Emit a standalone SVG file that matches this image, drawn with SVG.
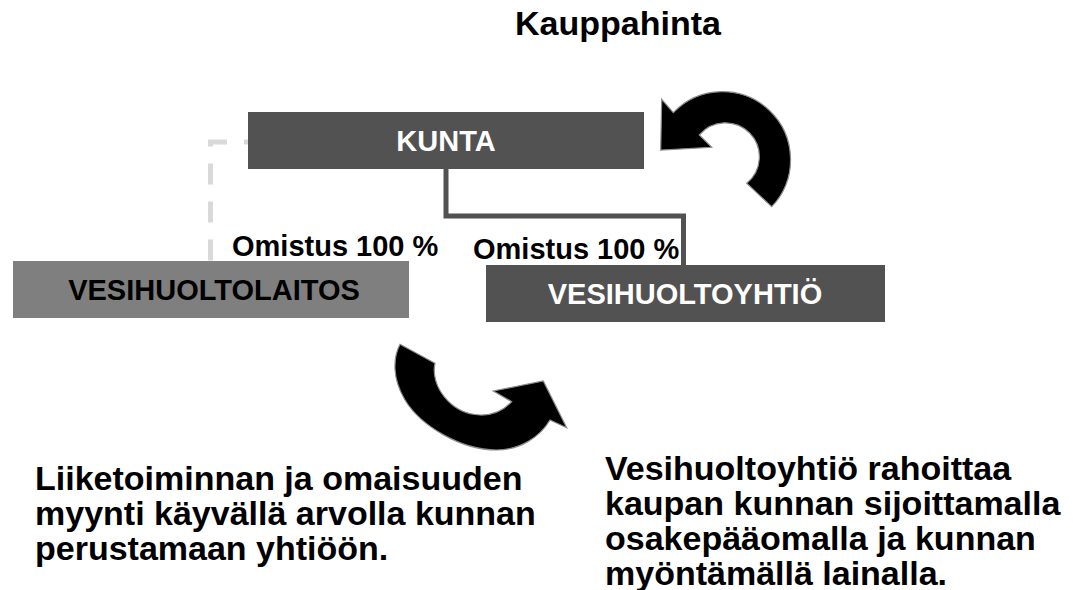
<svg xmlns="http://www.w3.org/2000/svg" width="1073" height="590" viewBox="0 0 1073 590">
  <style>
    text { font-family: "Liberation Sans", Arial, sans-serif; font-weight: bold; }
    .box-dark { fill: #525252; }
    .box-gray { fill: #7f7f7f; }
    .lbl { font-size: 29px; text-anchor: middle; }
    .big { font-size: 34px; fill: #000; }
    .own { font-size: 29px; fill: #000; }
    .conn { fill: none; stroke: #525252; stroke-width: 5; }
    .dash { fill: none; stroke: #d9d9d9; stroke-width: 5; stroke-dasharray: 21 17; stroke-dashoffset: 17; }
    .curve { fill: #000; stroke: #8c8c8c; stroke-width: 1.2; stroke-linejoin: miter; }
  </style>
  <rect width="1073" height="590" fill="#fff"/>

  <g id="connectors">
    <path class="dash" d="M 248 142 H 210.5 V 261"/>
    <path class="conn" d="M 446 169 V 216 H 683.5 V 265"/>
  </g>

  <g id="kauppahinta">
    <text class="big" x="515" y="35">Kauppahinta</text>
  </g>

  <g id="kunta">
    <rect class="box-dark" x="248" y="112" width="396" height="57"/>
    <text class="lbl" x="446" y="151" fill="#fff">KUNTA</text>
  </g>

  <g id="vesihuoltolaitos">
    <rect class="box-gray" x="13" y="261" width="396" height="57"/>
    <text class="lbl" x="214" y="300" fill="#000">VESIHUOLTOLAITOS</text>
  </g>

  <g id="vesihuoltoyhtio">
    <rect class="box-dark" x="486" y="265" width="399" height="57"/>
    <text class="lbl" x="685" y="304" fill="#fff">VESIHUOLTOYHTIÖ</text>
  </g>

  <g id="omistus-labels">
    <text class="own" x="232" y="256">Omistus 100 %</text>
    <text class="own" x="473" y="259">Omistus 100 %</text>
  </g>

  <g id="arrow-top">
    <path class="curve" d="M 771.7 206.7 A 68 68 0 1 0 673.3 112.7 L 661.7 99.3 L 660.7 150 L 711.7 147.3 L 699.3 135 A 34 34 0 1 1 746.7 183.3 Z"/>
  </g>

  <g id="arrow-bottom">
    <path class="curve" d="M 400 344.3 L 435 363.3 C 430 385 450 414 480 415 C 494 415.5 505 409 511.7 401.7 L 493.3 391 L 543.3 381 L 566.7 427.7 L 550 420 C 540 437 520 450 496.7 450 C 460 450 420 425 405 400 C 392 378 393 358 400 344.3 Z"/>
  </g>

  <g id="text-left">
    <text class="big" x="35" y="490">Liiketoiminnan ja omaisuuden</text>
    <text class="big" x="35" y="525">myynti käyvällä arvolla kunnan</text>
    <text class="big" x="35" y="560">perustamaan yhtiöön.</text>
  </g>

  <g id="text-right">
    <text class="big" x="605" y="480">Vesihuoltoyhtiö rahoittaa</text>
    <text class="big" x="605" y="515">kaupan kunnan sijoittamalla</text>
    <text class="big" x="605" y="550">osakepääomalla ja kunnan</text>
    <text class="big" x="605" y="585">myöntämällä lainalla.</text>
  </g>
</svg>
